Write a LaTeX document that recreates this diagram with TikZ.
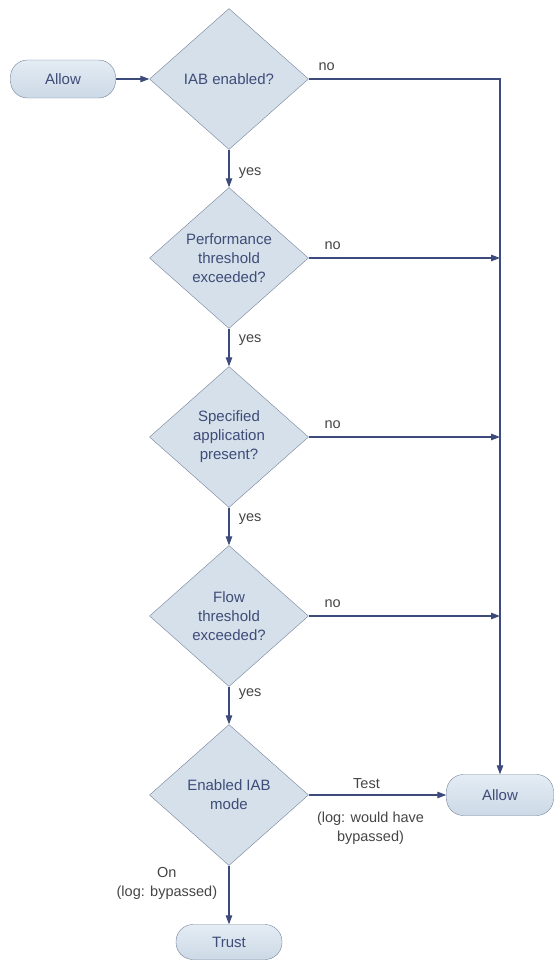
\documentclass[tikz,border=0pt]{standalone}
\usepackage{fontspec}
\setmainfont{Liberation Sans}
\usetikzlibrary{arrows.meta,positioning,shapes.geometric}

\definecolor{nodefill}{HTML}{D5E0EA}
\definecolor{nodeline}{HTML}{74839A}
\definecolor{nodetext}{HTML}{3E4C78}
\definecolor{flowline}{HTML}{3C4A7C}
\definecolor{labeltext}{HTML}{454545}
\definecolor{boxtop}{HTML}{E4ECF4}
\definecolor{boxbottom}{HTML}{CCD9E6}

\tikzset{
  decision/.style={diamond, draw=nodeline, fill=nodefill, text=nodetext,
    minimum width=159pt, minimum height=141pt, aspect=1.13, inner sep=0pt,
    align=center, font=\fontsize{15}{19}\selectfont},
  terminal/.style={rectangle, rounded corners=17pt, draw=nodeline,
    top color=boxtop, bottom color=boxbottom, text=nodetext,
    minimum width=105pt, minimum height=38pt, font=\fontsize{15}{19}\selectfont},
  flow/.style={draw=flowline, line width=1.1pt, -{Triangle[length=9pt,width=6.5pt]}},
  lbl/.style={text=labeltext, align=center, font=\fontsize{14.5}{19}\selectfont}
}

\begin{document}
\begin{tikzpicture}[x=1pt,y=-1pt,on grid,node distance=179pt]
  \useasboundingbox (0,0) rectangle (556,961);

  \node[terminal] (allow_in) at (63,79) {Allow};
  \node[decision] (d_iab) at (229,79) {IAB enabled?};
  \node[decision] (d_perf) [below=of d_iab] {Performance\\threshold\\exceeded?};
  \node[decision] (d_app) [below=of d_perf] {Specified\\application\\present?};
  \node[decision] (d_flow) [below=of d_app] {Flow\\threshold\\exceeded?};
  \node[decision] (d_mode) [below=of d_flow] {Enabled IAB\\mode};
  \node[terminal, minimum width=107pt, minimum height=41pt] (allow_out) at (500,795) {Allow};
  \node[terminal, minimum width=106pt, minimum height=35pt] (trust) [below=147pt of d_mode] {Trust};

  \coordinate (c_iab) at (d_iab -| allow_out);
  \coordinate (c_perf) at (d_perf -| allow_out);
  \coordinate (c_app) at (d_app -| allow_out);
  \coordinate (c_flow) at (d_flow -| allow_out);

  \draw[flow] (allow_in) -- (d_iab);

  % no branches
  \draw[flow] (d_iab.east) -- node[lbl, anchor=base west, pos=0, xshift=6pt, yshift=9pt] {no} (c_iab) -- (allow_out);
  \draw[flow] (d_perf.east) -- node[lbl, anchor=base west, pos=0, xshift=12pt, yshift=9pt] {no} (c_perf);
  \draw[flow] (d_app.east) -- node[lbl, anchor=base west, pos=0, xshift=12pt, yshift=9pt] {no} (c_app);
  \draw[flow] (d_flow.east) -- node[lbl, anchor=base west, pos=0, xshift=12pt, yshift=9pt] {no} (c_flow);

  % yes branches
  \draw[flow] (d_iab) -- node[lbl, right, pos=0.62, xshift=6pt] {yes} (d_perf);
  \draw[flow] (d_perf) -- node[lbl, right, pos=0.3, xshift=6pt] {yes} (d_app);
  \draw[flow] (d_app) -- node[lbl, right, pos=0.3, xshift=6pt] {yes} (d_flow);
  \draw[flow] (d_flow) -- node[lbl, right, pos=0.2, xshift=6pt] {yes} (d_mode);

  % mode
  \draw[flow] (d_mode) -- node[lbl, above, xshift=-11pt, yshift=2pt] {Test}
    node[lbl, below, xshift=-7pt, yshift=-13pt] {(log: would have\\bypassed)} (allow_out);
  \draw[flow] (d_mode) -- node[lbl, left, pos=0.3, xshift=-8pt] {On\\(log: bypassed)} (trust);
\end{tikzpicture}
\end{document}
